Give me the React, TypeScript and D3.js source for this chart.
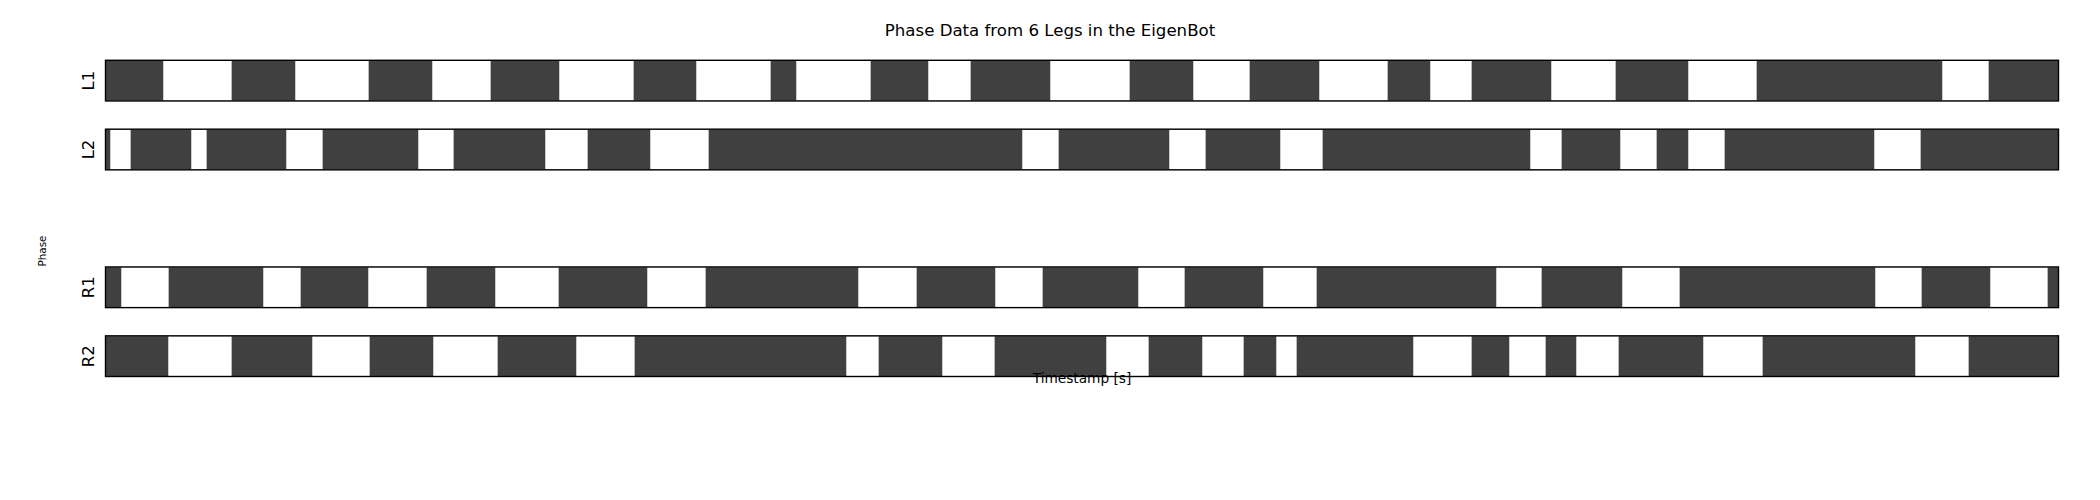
import React, { useEffect, useRef } from 'react';
import * as d3 from 'd3';

// Phase change timestamps [s] per leg. Every bar starts in the dark phase
// and then alternates dark / light at each timestamp.
const END_TIME = 19.53;

const L1_CHANGES = [0.58, 1.26, 1.90, 2.63, 3.27, 3.85, 4.54, 5.28, 5.91, 6.65, 6.91, 7.65, 8.23, 8.65,
    9.45, 10.24, 10.88, 11.44, 12.14, 12.82, 13.25, 13.66, 14.46, 15.10, 15.83, 16.51, 18.37, 18.83];
const L2_CHANGES = [0.05, 0.25, 0.86, 1.01, 1.81, 2.17, 3.13, 3.48, 4.40, 4.82, 5.45, 6.03, 9.17, 9.53,
    10.64, 11.00, 11.75, 12.17, 14.25, 14.56, 15.15, 15.51, 15.83, 16.19, 17.69, 18.15];
const R1_CHANGES = [0.16, 0.63, 1.58, 1.95, 2.63, 3.21, 3.90, 4.53, 5.42, 6.00, 7.53, 8.11, 8.90, 9.37,
    10.33, 10.79, 11.58, 12.11, 13.91, 14.36, 15.17, 15.74, 17.70, 18.16, 18.85, 19.42];
const R2_CHANGES = [0.63, 1.26, 2.07, 2.64, 3.28, 3.92, 4.71, 5.29, 7.41, 7.73, 8.37, 8.89, 10.01, 10.43,
    10.97, 11.38, 11.71, 11.91, 13.08, 13.66, 14.04, 14.40, 14.71, 15.13, 15.98, 16.57, 18.10, 18.63];

const LEG_NAMES = ['L1', 'L2', 'R1', 'R2'];
const LEG_CHANGES = [L1_CHANGES, L2_CHANGES, R1_CHANGES, R2_CHANGES];
// row order on the y axis, the middle row is left empty
const ROW_SLOTS = ['L1', 'L2', '', 'R1', 'R2'];

const TITLE = 'Phase Data from 6 Legs in the EigenBot';
const X_LABEL = 'Timestamp [s]';
const Y_LABEL = 'Phase';

const PhaseChart = ({ width = 2100, height = 500 }: { width?: number; height?: number }) => {
    const svgRef = useRef<SVGSVGElement>(null);

    useEffect(() => {
        const svg = d3.select(svgRef.current);
        svg.selectAll('*').remove();

        const font = 'DejaVu Sans, sans-serif';

        const xScale = d3.scaleLinear()
            .domain([0, END_TIME])
            .range([105.5, 2058.5]);

        const yScale = d3.scaleBand<string>()
            .domain(ROW_SLOTS)
            .range([60.3, 376.5])
            .paddingInner(0.41)
            .paddingOuter(0);

        const bw = yScale.bandwidth();

        LEG_NAMES.forEach((leg, li) => {
            const bounds = [0, ...LEG_CHANGES[li], END_TIME];
            const y0 = yScale(leg) as number;
            const g = svg.append('g');

            g.selectAll('rect.seg')
                .data(d3.pairs(bounds))
                .enter()
                .append('rect')
                .attr('class', 'seg')
                .attr('x', d => xScale(d[0]))
                .attr('y', y0)
                .attr('width', d => xScale(d[1]) - xScale(d[0]))
                .attr('height', bw)
                .attr('fill', (_, i) => (i % 2 === 0 ? '#404040' : '#ffffff'))
                .attr('stroke', '#c8c8c8')
                .attr('stroke-width', 0.8);

            // black frame around the whole bar
            g.append('rect')
                .attr('x', xScale(0))
                .attr('y', y0)
                .attr('width', xScale(END_TIME) - xScale(0))
                .attr('height', bw)
                .attr('fill', 'none')
                .attr('stroke', '#000')
                .attr('stroke-width', 1.4);

            svg.append('text')
                .attr('transform', `translate(94, ${y0 + bw / 2}) rotate(-90)`)
                .attr('text-anchor', 'middle')
                .style('font-family', font)
                .style('font-size', '16.5px')
                .attr('fill', '#000')
                .text(leg);
        });

        svg.append('text')
            .attr('x', 1050)
            .attr('y', 36)
            .attr('text-anchor', 'middle')
            .style('font-family', font)
            .style('font-size', '16.6px')
            .text(TITLE);

        svg.append('text')
            .attr('x', (xScale(0) + xScale(END_TIME)) / 2)
            .attr('y', 383)
            .attr('text-anchor', 'middle')
            .style('font-family', font)
            .style('font-size', '13.7px')
            .text(X_LABEL);

        svg.append('text')
            .attr('transform', 'translate(45.5, 251) rotate(-90)')
            .attr('text-anchor', 'middle')
            .style('font-family', font)
            .style('font-size', '10.4px')
            .text(Y_LABEL);
    }, [width, height]);

    return (
        <svg
            ref={svgRef}
            width={width}
            height={height}
            style={{ position: 'absolute', left: 0, top: 0, background: '#fff', display: 'block' }}
        />
    );
};

export default function App() {
    return <PhaseChart />;
}
